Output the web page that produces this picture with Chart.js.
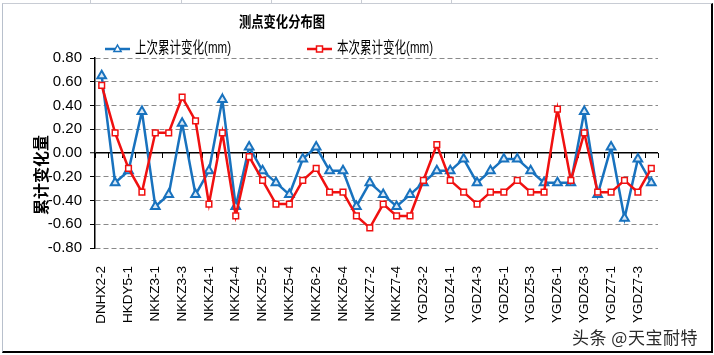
<!DOCTYPE html>
<html><head><meta charset="utf-8">
<script src="https://cdn.jsdelivr.net/npm/chart.js@4"></script>
<style>
html,body{margin:0;padding:0;background:#fff;}
#wrap{position:relative;width:714px;height:355px;overflow:hidden;background:#fff;}
canvas{position:absolute;left:0;top:0;}
#frame{position:absolute;left:2px;top:3px;width:708px;height:347px;border-left:1px solid #b8c0cc;border-top:1px solid #c8ccd4;border-right:2px solid #000;border-bottom:2px solid #000;pointer-events:none;}
.cell{position:absolute;top:0;width:1px;height:4px;background:#c8ccd4;}
#wm{position:absolute;left:572px;top:324px;font:17px "Noto Sans CJK SC",sans-serif;color:#2a2a2a;letter-spacing:0.5px;text-shadow:0 0 2px #fff;white-space:nowrap;}
</style></head>
<body>
<div id="wrap">
<canvas id="c" width="714" height="355"></canvas>
<div id="frame"></div>
<div class="cell" style="left:90px"></div>
<div class="cell" style="left:181px"></div>
<div class="cell" style="left:271px"></div>
<div class="cell" style="left:361px"></div>
<div class="cell" style="left:451px"></div>
<div id="wm">头条 @天宝耐特</div>
</div>
<script>
const categories = [
 'DNHX2-2','DNHX2-3','HKDY5-1','HKDY5-2','NKKZ3-1','NKKZ3-2','NKKZ3-3','NKKZ3-4',
 'NKKZ4-1','NKKZ4-3','NKKZ4-4','NKKZ5-1','NKKZ5-2','NKKZ5-3','NKKZ5-4','NKKZ6-1',
 'NKKZ6-2','NKKZ6-3','NKKZ6-4','NKKZ7-1','NKKZ7-2','NKKZ7-3','NKKZ7-4','YGDZ3-1',
 'YGDZ3-2','YGDZ3-3','YGDZ4-1','YGDZ4-2','YGDZ4-3','YGDZ4-4','YGDZ5-1','YGDZ5-2',
 'YGDZ5-3','YGDZ5-4','YGDZ6-1','YGDZ6-2','YGDZ6-3','YGDZ6-4','YGDZ7-1','YGDZ7-2',
 'YGDZ7-3','YGDZ7-4'
];
const prevCumulative = [
 0.65,-0.25,-0.15,0.35,-0.45,-0.35,0.25,-0.35,
 -0.15,0.45,-0.45,0.05,-0.15,-0.25,-0.35,-0.05,
 0.05,-0.15,-0.15,-0.45,-0.25,-0.35,-0.45,-0.35,
 -0.25,-0.15,-0.15,-0.05,-0.25,-0.15,-0.05,-0.05,
 -0.15,-0.25,-0.25,-0.25,0.35,-0.35,0.05,-0.55,
 -0.05,-0.25
];
const currCumulative = [
 0.57,0.17,-0.13,-0.33,0.17,0.17,0.47,0.27,
 -0.43,0.17,-0.53,-0.03,-0.23,-0.43,-0.43,-0.23,
 -0.13,-0.33,-0.33,-0.53,-0.63,-0.43,-0.53,-0.53,
 -0.23,0.07,-0.23,-0.33,-0.43,-0.33,-0.33,-0.23,
 -0.33,-0.33,0.37,-0.23,0.17,-0.33,-0.33,-0.23,
 -0.33,-0.13
];
const seriesNames = ['上次累计变化(mm)','本次累计变化(mm)'];
const chartTitle = '测点变化分布图';
const yAxisTitle = '累计变化量';
const yMin = -0.8, yMax = 0.8, yStep = 0.2;

const FONT = '"Liberation Sans","Noto Sans CJK SC",sans-serif';
const BLUE = '#1872BE';
const RED = '#F01010';
const isZero = c => c.tick && Math.abs(c.tick.value) < 1e-9;

function drawTri(ctx, x, y, r){
  ctx.beginPath();
  ctx.moveTo(x, y - r);
  ctx.lineTo(x + r*0.9, y + r*0.6);
  ctx.lineTo(x - r*0.9, y + r*0.6);
  ctx.closePath();
}
// draws text horizontally condensed (reference glyphs are narrow & tall)
function condensedText(ctx, text, x, y, sx, align){
  ctx.save();
  ctx.translate(x, y);
  ctx.scale(sx, 1);
  ctx.textAlign = align;
  ctx.fillText(text, 0, 0);
  ctx.restore();
}

const decor = {
  id:'decor',
  beforeDatasetsDraw(chart){
    const ctx = chart.ctx, xs = chart.scales.x, ys = chart.scales.y;
    const y0 = ys.getPixelForValue(0);
    const n = categories.length;
    const w = (xs.right - xs.left) / n;
    ctx.save();
    ctx.strokeStyle = '#000';
    ctx.lineWidth = 1;
    for (let i = 0; i <= n; i++){
      const x = Math.round(xs.left + i*w) + 0.5;
      ctx.beginPath(); ctx.moveTo(x, y0); ctx.lineTo(x, y0 + 5); ctx.stroke();
    }
    ctx.restore();
  },
  afterDraw(chart){
    const ctx = chart.ctx;
    ctx.save();
    ctx.fillStyle = '#000';
    ctx.textBaseline = 'middle';
    // title
    ctx.font = 'bold 15px ' + FONT;
    condensedText(ctx, chartTitle, 282, 23, 0.82, 'center');
    // legend
    ctx.font = '16px ' + FONT;
    const items = [
      {x:105, color:BLUE, name:seriesNames[0], shape:'tri'},
      {x:307, color:RED, name:seriesNames[1], shape:'rect'}
    ];
    const ly = 49;
    items.forEach(it => {
      ctx.strokeStyle = it.color; ctx.lineWidth = 2.5;
      ctx.beginPath(); ctx.moveTo(it.x, ly); ctx.lineTo(it.x + 25, ly); ctx.stroke();
      const cx = it.x + 12.5;
      ctx.lineWidth = 1.5;
      ctx.fillStyle = '#fff';
      if (it.shape === 'tri'){ drawTri(ctx, cx, ly, 4); ctx.fill(); ctx.stroke(); }
      else { ctx.fillRect(cx-3, ly-3, 6, 6); ctx.strokeRect(cx-3, ly-3, 6, 6); }
      ctx.fillStyle = '#000';
      condensedText(ctx, it.name, it.x + 30, ly, 0.72, 'left');
    });
    // y axis title
    ctx.font = 'bold 16px ' + FONT;
    ctx.textAlign = 'center';
    ctx.translate(43, 175);
    ctx.rotate(-Math.PI/2);
    ctx.fillText(yAxisTitle, 0, 0);
    ctx.restore();
  }
};

new Chart(document.getElementById('c'), {
  type:'line',
  data:{
    labels:categories,
    datasets:[
      {label:seriesNames[0], data:prevCumulative, borderColor:BLUE, borderWidth:2.5,
       pointStyle:'triangle', pointRadius:5, pointBackgroundColor:'#d8e8f6',
       pointBorderColor:BLUE, pointBorderWidth:2, tension:0, order:2},
      {label:seriesNames[1], data:currCumulative, borderColor:RED, borderWidth:2.5,
       pointStyle:'rect', pointRadius:4, pointBackgroundColor:'#fff',
       pointBorderColor:RED, pointBorderWidth:1.5, tension:0, order:1}
    ]
  },
  options:{
    responsive:false, animation:false, devicePixelRatio:1,
    layout:{padding:{top:58,right:56,left:0,bottom:0}},
    plugins:{legend:{display:false}, title:{display:false}, tooltip:{enabled:false}},
    scales:{
      x:{
        offset:true,
        grid:{display:false},
        border:{display:false},
        ticks:{autoSkip:false, maxRotation:90, minRotation:90, padding:10, color:'#000',
          font:{size:13.5, family:FONT},
          callback:(v,i)=> i%2===0 ? categories[i] : ''},
        afterFit:s=>{ s.height = 107; }
      },
      y:{
        min:yMin, max:yMax,
        ticks:{stepSize:yStep, padding:8, color:'#000', font:{size:15, family:FONT},
          callback:v=>v.toFixed(2)},
        grid:{color:c=> isZero(c) ? '#000' : '#8a8a8a', lineWidth:c=> isZero(c) ? 1.5 : 1,
          tickLength:5, tickColor:'#000', tickWidth:1, tickBorderDash:[]},
        border:{display:true, color:'#000', width:1.5, dash:c=> isZero(c) ? [] : [5,3]},
        afterFit:s=>{ s.width = 95; }
      }
    }
  },
  plugins:[decor]
});
</script>
</body></html>
